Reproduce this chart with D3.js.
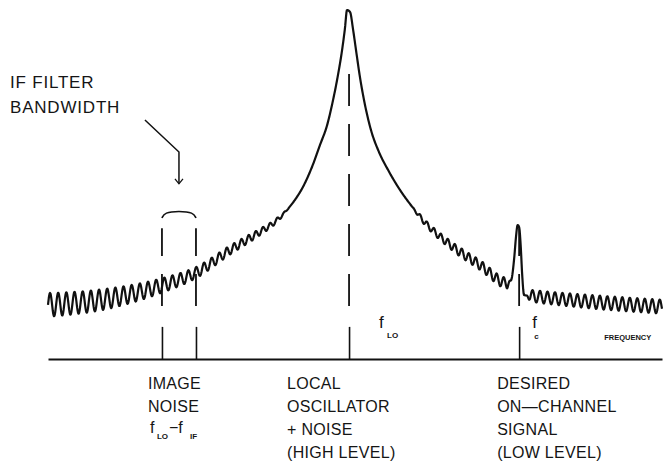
<!DOCTYPE html>
<html>
<head>
<meta charset="utf-8">
<script src="https://cdn.jsdelivr.net/npm/d3@7/dist/d3.min.js"></script>
<style>
  body { margin: 0; background: #fff; }
  text { font-family: "Liberation Sans", Arial, sans-serif; fill: #151515; }
</style>
</head>
<body>
<svg id="chart" width="665" height="470"></svg>
<script>
// frequency is in IF units relative to the LO (image = -1, wanted signal = +1)
// level is in % of the LO peak
var envFreq = [-1.77, -1.465, -1.112, -0.894, -0.700, -0.524, -0.435, -0.365, -0.318, -0.271,
  -0.218, -0.171, -0.129, -0.094, -0.065, -0.041, -0.024, -0.012,
  0.006, 0.024, 0.041, 0.065, 0.088, 0.129, 0.176, 0.229, 0.300, 0.376, 0.418, 0.612, 0.771, 0.929,
  0.953, 0.971, 0.982, 0.991, 1.000, 1.009, 1.018, 1.029,
  1.065, 1.241, 1.476, 1.84];
var envLevel = [15.5, 16.9, 20.9, 24.9, 31.2, 36.4, 39.3, 42.7, 45.6, 49.3,
  55.0, 61.3, 67.0, 74.2, 81.4, 88.5, 94.8, 100,
  99.4, 94.3, 88.5, 80.5, 74.2, 65.6, 59.3, 54.2, 48.4, 43.3, 40.7, 32.1, 26.9, 21.8,
  22.6, 28.9, 35.2, 38.4, 37.8, 32.7, 24.1, 18.3,
  18.1, 17.2, 16.2, 15.0];

// noise ripple riding on the spectrum (peak-to-peak, level units)
var rippleFreq = [-1.77, -1.45, -1.11, -0.9, -0.58, -0.41, -0.35, 0.37, 0.42, 0.65, 0.93, 0.95, 1.045, 1.065, 1.47, 1.84];
var rippleAmp = [6.8, 6.0, 4.2, 3.2, 2.2, 1.2, 0, 0, 1.5, 2.6, 3.1, 0, 0, 3.4, 3.9, 4.0];
var ripplePeriod = [0.048, 0.048, 0.048, 0.046, 0.042, 0.042, 0.042, 0.042, 0.041, 0.041, 0.041, 0.041, 0.044, 0.044, 0.044, 0.044];

// markers: image band edges, LO, wanted signal
var markerFreq = [-1.1, -0.9, 0, 1];
var markerTop = [37.5, 37.5, 82.2, 37.5];

var imageLabel = ["IMAGE", "NOISE"];
var loLabel = ["LOCAL", "OSCILLATOR", "+ NOISE", "(HIGH LEVEL)"];
var sigLabel = ["DESIRED", "ON\u2014CHANNEL", "SIGNAL", "(LOW LEVEL)"];
var noteLabel = ["IF FILTER", "BANDWIDTH"];

var svg = d3.select("#chart");
var x = d3.scaleLinear().domain([-1.77, 1.84]).range([48, 662]);
var y = d3.scaleLinear().domain([0, 100]).range([359, 10]);

// smooth envelope, drawn hidden and sampled
var envLine = d3.line()
  .x(function(d, i) { return x(envFreq[i]); })
  .y(function(d) { return y(d); })
  .curve(d3.curveMonotoneX);
var hidden = svg.append("path").attr("d", envLine(envLevel)).attr("fill", "none").attr("stroke", "none");
var node = hidden.node(), len = node.getTotalLength();
var samp = [];
for (var s = 0; s <= len; s += 0.4) {
  var p = node.getPointAtLength(s);
  samp.push([p.x, p.y]);
}
hidden.remove();
var bis = d3.bisector(function(d) { return d[0]; }).left;
function envAt(px) {
  var i = Math.max(1, Math.min(samp.length - 1, bis(samp, px)));
  var a = samp[i - 1], b = samp[i];
  var t = b[0] === a[0] ? 0 : (px - a[0]) / (b[0] - a[0]);
  return a[1] + t * (b[1] - a[1]);
}
var ampScale = d3.scaleLinear().domain(rippleFreq).range(rippleAmp).clamp(true);
var perScale = d3.scaleLinear().domain(rippleFreq).range(ripplePeriod).clamp(true);

var pts = [], phase = 0, step = 0.4;
for (var px = x(envFreq[0]); px <= x(envFreq[envFreq.length - 1]); px += step) {
  var f = x.invert(px);
  var lev = y.invert(envAt(px)) + ampScale(f) / 2 * Math.sin(phase);
  pts.push([px, y(lev)]);
  phase += 2 * Math.PI * step / (x(perScale(f)) - x(0));
}
svg.append("path")
  .attr("d", d3.line()(pts))
  .attr("fill", "none")
  .attr("stroke", "#111")
  .attr("stroke-width", 2.2)
  .attr("stroke-linejoin", "round");

// dashed markers
svg.selectAll(".marker").data(markerFreq).enter().append("line")
  .attr("class", "marker")
  .attr("x1", function(d) { return x(d); })
  .attr("x2", function(d) { return x(d); })
  .attr("y1", y(15.2))
  .attr("y2", function(d, i) { return y(markerTop[i]); })
  .attr("stroke", "#111")
  .attr("stroke-width", 1.8)
  .attr("stroke-dasharray", "32,18");

// frequency axis with upward ticks
var axis = svg.append("g")
  .attr("transform", "translate(0," + y(0) + ")")
  .call(d3.axisTop(x).tickValues(markerFreq).tickSize(y(0) - y(9.2)).tickSizeOuter(0).tickFormat(""));
axis.select(".domain").attr("stroke", "#111").attr("stroke-width", 2);
axis.selectAll(".tick line").attr("stroke", "#111").attr("stroke-width", 1.6);

// IF bandwidth bracket
var bracket = [[-1.1, 40.4], [-1.085, 42.0], [-1.0, 42.4], [-0.915, 42.0], [-0.9, 40.4]];
svg.append("path")
  .attr("d", d3.line().x(function(d) { return x(d[0]); }).y(function(d) { return y(d[1]); }).curve(d3.curveBasis)(bracket))
  .attr("fill", "none").attr("stroke", "#111").attr("stroke-width", 1.6);

// annotation arrow
var arrow = [[-1.2, 68.5], [-1.0, 59.3], [-1.0, 50.2]];
svg.append("path")
  .attr("d", d3.line().x(function(d) { return x(d[0]); }).y(function(d) { return y(d[1]); })(arrow))
  .attr("fill", "none").attr("stroke", "#111").attr("stroke-width", 1.5);
var tip = [x(-1.0), y(50.2)];
svg.append("path")
  .attr("d", "M" + (tip[0] - 4) + "," + (tip[1] - 5) + "L" + tip[0] + "," + tip[1] + "L" + (tip[0] + 4) + "," + (tip[1] - 5))
  .attr("fill", "none").attr("stroke", "#111").attr("stroke-width", 1.3);

svg.selectAll(".note").data(noteLabel).enter().append("text")
  .attr("x", 10).attr("y", function(d, i) { return 88 + i * 25; })
  .attr("font-size", 17).attr("letter-spacing", 0.8).text(function(d) { return d; });

// labels under the axis
function block(lines, fx, dx) {
  svg.selectAll(null).data(lines).enter().append("text")
    .attr("x", x(fx) + dx)
    .attr("y", function(d, i) { return 389 + i * 23; })
    .attr("font-size", 16)
    .attr("letter-spacing", 0.3)
    .text(function(d) { return d; });
}
block(imageLabel, -1, -31);
block(loLabel, 0, -62);
block(sigLabel, 1, -22);

// f_LO - f_IF under the image label
var fx0 = x(-1) - 29;
svg.append("text").attr("x", fx0).attr("y", 433).attr("font-size", 16).text("f");
svg.append("text").attr("x", fx0 + 7).attr("y", 439).attr("font-size", 8).attr("font-weight", "bold").text("LO");
svg.append("text").attr("x", fx0 + 19).attr("y", 433).attr("font-size", 16).text("\u2212f");
svg.append("text").attr("x", fx0 + 40).attr("y", 439).attr("font-size", 8).attr("font-weight", "bold").text("IF");

// frequency markers near the axis
svg.append("text").attr("x", x(0) + 30).attr("y", 328).attr("font-size", 17).text("f");
svg.append("text").attr("x", x(0) + 38).attr("y", 338).attr("font-size", 8).attr("font-weight", "bold").text("LO");
svg.append("text").attr("x", x(1) + 13).attr("y", 328).attr("font-size", 17).text("f");
svg.append("text").attr("x", x(1) + 15).attr("y", 339).attr("font-size", 8).attr("font-weight", "bold").text("c");
svg.append("text").attr("x", x(1.5)).attr("y", 340).attr("font-size", 7.5).attr("font-weight", "bold").text("FREQUENCY");
</script>
</body>
</html>
